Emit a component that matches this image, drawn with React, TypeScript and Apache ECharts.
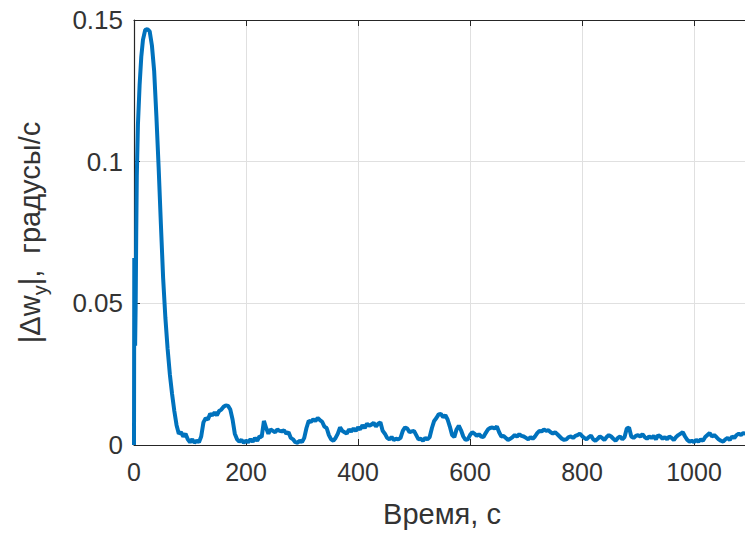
import React, { useEffect, useRef } from "react";
import * as echarts from "echarts";

const xTicks = [0, 200, 400, 600, 800, 1000];
const xLimit = 1100;
const yTicks = [0, 0.05, 0.1, 0.15];
const xTitle = "Время, с";
const yTitle = "{n||Δw}{sub|y}{n||,  градусы/с}";

// [time (s), |Δw_y| (deg/s)]
const signal: [number, number][] = [
  [0, 0], [0.5, 0.066], [1.5, 0.066], [2, 0.035], [3, 0.05], [4, 0.075], [5, 0.095],
  [7, 0.113], [10, 0.127], [13, 0.137], [16, 0.143], [20, 0.1465], [24, 0.1468],
  [28, 0.146], [32, 0.141], [36, 0.132], [40, 0.116], [44, 0.098], [48, 0.078],
  [52, 0.059], [56, 0.045], [60, 0.034], [64, 0.025], [68, 0.018], [72, 0.012],
  [76, 0.007], [80, 0.004], [84, 0.0045], [88, 0.003], [92, 0.004], [96, 0.002],
  [100, 0.001], [104, 0.002], [108, 0.0008], [112, 0.0015], [116, 0.001], [120, 0.003],
  [124, 0.008], [128, 0.0095], [132, 0.009], [136, 0.011], [140, 0.0105], [144, 0.0115],
  [148, 0.0105], [152, 0.012], [156, 0.0125], [160, 0.0135], [164, 0.014], [168, 0.0138],
  [172, 0.0125], [176, 0.009], [180, 0.004], [184, 0.002], [188, 0.0012], [192, 0.0018],
  [196, 0.0008], [200, 0.0015], [204, 0.001], [208, 0.002], [212, 0.0012], [216, 0.0025],
  [220, 0.0015], [224, 0.003], [228, 0.0028], [232, 0.0085], [236, 0.006], [240, 0.004],
  [244, 0.0055], [248, 0.005], [252, 0.0045], [256, 0.0055], [260, 0.005], [264, 0.0048],
  [268, 0.0052], [272, 0.004], [276, 0.0045], [280, 0.0025], [284, 0.002], [288, 0.001],
  [292, 0.0008], [296, 0.0015], [300, 0.001], [304, 0.0025], [308, 0.006], [312, 0.0085],
  [316, 0.0082], [320, 0.009], [324, 0.0085], [328, 0.0095], [332, 0.0088], [336, 0.0082],
  [340, 0.0065], [344, 0.006], [348, 0.0035], [352, 0.002], [356, 0.0015], [360, 0.0025],
  [364, 0.004], [368, 0.0062], [372, 0.005], [376, 0.0045], [380, 0.004], [384, 0.0055],
  [388, 0.0048], [392, 0.0058], [396, 0.005], [400, 0.0062], [404, 0.0055], [408, 0.007],
  [412, 0.006], [416, 0.0075], [420, 0.0068], [424, 0.0072], [428, 0.0078], [432, 0.0065],
  [436, 0.0075], [440, 0.008], [444, 0.005], [448, 0.004], [452, 0.0025], [456, 0.002],
  [460, 0.0028], [464, 0.0018], [468, 0.0022], [472, 0.002], [476, 0.0025], [480, 0.005],
  [484, 0.0062], [488, 0.0058], [492, 0.0045], [496, 0.0048], [500, 0.005], [504, 0.0035],
  [508, 0.002], [512, 0.0022], [516, 0.0015], [520, 0.0025], [524, 0.002], [528, 0.0028],
  [532, 0.006], [536, 0.0085], [540, 0.0095], [544, 0.0108], [548, 0.011], [552, 0.0098],
  [556, 0.0105], [560, 0.009], [564, 0.0065], [568, 0.0035], [572, 0.0028], [576, 0.0055],
  [580, 0.0068], [584, 0.0052], [588, 0.003], [592, 0.0018], [596, 0.002], [600, 0.0035],
  [604, 0.0045], [608, 0.004], [612, 0.0032], [616, 0.0038], [620, 0.003], [624, 0.0028],
  [628, 0.0042], [632, 0.0055], [636, 0.006], [640, 0.0062], [644, 0.0058], [648, 0.0065],
  [652, 0.0045], [656, 0.003], [660, 0.0032], [664, 0.0025], [668, 0.0018], [672, 0.0022],
  [676, 0.0028], [680, 0.0035], [684, 0.003], [688, 0.0038], [692, 0.0032], [696, 0.003],
  [700, 0.0025], [704, 0.002], [708, 0.0028], [712, 0.0022], [716, 0.003], [720, 0.0042],
  [724, 0.005], [728, 0.0048], [732, 0.0055], [736, 0.005], [740, 0.0052], [744, 0.0045],
  [748, 0.004], [752, 0.0045], [756, 0.0038], [760, 0.003], [764, 0.0022], [768, 0.0018],
  [772, 0.002], [776, 0.0028], [780, 0.003], [784, 0.0025], [788, 0.0032], [792, 0.0035],
  [796, 0.004], [800, 0.0032], [804, 0.0025], [808, 0.002], [812, 0.0028], [816, 0.0033],
  [820, 0.002], [824, 0.0015], [828, 0.0022], [832, 0.003], [836, 0.0025], [840, 0.0018],
  [844, 0.0028], [848, 0.0035], [852, 0.003], [856, 0.0022], [860, 0.0015], [864, 0.0025],
  [868, 0.003], [872, 0.002], [876, 0.0028], [880, 0.0058], [884, 0.0062], [888, 0.003],
  [892, 0.0025], [896, 0.0032], [900, 0.0035], [904, 0.003], [908, 0.0038], [912, 0.0028],
  [916, 0.0022], [920, 0.003], [924, 0.0025], [928, 0.0032], [932, 0.002], [936, 0.0035],
  [940, 0.003], [944, 0.0022], [948, 0.0028], [952, 0.002], [956, 0.003], [960, 0.0025],
  [964, 0.0018], [968, 0.0028], [972, 0.0035], [976, 0.004], [980, 0.0045], [984, 0.003],
  [988, 0.0018], [992, 0.0012], [996, 0.0015], [1000, 0.001], [1004, 0.0018], [1008, 0.0012],
  [1012, 0.002], [1016, 0.0015], [1020, 0.0028], [1024, 0.0035], [1028, 0.0042], [1032, 0.003],
  [1036, 0.0035], [1040, 0.0028], [1044, 0.002], [1048, 0.0015], [1052, 0.0012], [1056, 0.002],
  [1060, 0.0025], [1064, 0.0018], [1068, 0.003], [1072, 0.0025], [1076, 0.0035], [1080, 0.004],
  [1084, 0.0035], [1088, 0.0042], [1092, 0.004], [1096, 0.0045], [1100, 0.004],
];

const FONT = "'Liberation Sans', Arial, sans-serif";
const TEXT = "#333333";
const AXIS = "#262626";
const GRID = "#e0e0e0";

export default function App() {
  const ref = useRef<HTMLDivElement>(null);
  useEffect(() => {
    if (!ref.current) return;
    const chart = echarts.init(ref.current, undefined, { renderer: "svg" });
    const xInt = xTicks[1] - xTicks[0];
    const showX = (v: number) => xTicks.indexOf(v) >= 0;
    const common = {
      type: "value",
      min: xTicks[0],
      max: xLimit,
      interval: xInt,
    };
    chart.setOption({
      animation: false,
      backgroundColor: "#ffffff",
      grid: { left: 134, top: 20, right: 10, bottom: 90, containLabel: false },
      xAxis: [
        {
          ...common,
          position: "bottom",
          name: xTitle,
          nameLocation: "middle",
          nameGap: 54,
          nameTextStyle: { fontSize: 29, color: TEXT, fontFamily: FONT },
          axisLine: { show: true, lineStyle: { color: AXIS, width: 1.2 } },
          axisTick: { show: true, inside: true, length: 6, lineStyle: { color: AXIS } },
          axisLabel: {
            fontSize: 25,
            color: TEXT,
            fontFamily: FONT,
            margin: 14,
            formatter: (v: number) => (showX(v) ? String(v) : ""),
          },
          splitLine: { show: true, lineStyle: { color: GRID, width: 1 } },
        },
        {
          ...common,
          position: "top",
          axisLine: { show: true, lineStyle: { color: AXIS, width: 1.2 } },
          axisTick: { show: true, inside: true, length: 6, lineStyle: { color: AXIS } },
          axisLabel: { show: false },
          splitLine: { show: false },
        },
      ],
      yAxis: {
        type: "value",
        min: yTicks[0],
        max: yTicks[yTicks.length - 1],
        interval: yTicks[1] - yTicks[0],
        name: yTitle,
        nameLocation: "middle",
        nameGap: 88,
        nameTextStyle: {
          fontSize: 29,
          color: TEXT,
          fontFamily: FONT,
          rich: {
            n: { fontSize: 29, color: TEXT, fontFamily: FONT, lineHeight: 31, verticalAlign: "top" },
            sub: {
              fontSize: 20,
              color: TEXT,
              fontFamily: FONT,
              lineHeight: 20,
              verticalAlign: "top",
              padding: [15, 0, 0, 0],
            },
          },
        },
        axisLine: { show: true, lineStyle: { color: AXIS, width: 1.2 } },
        axisTick: { show: true, inside: true, length: 6, lineStyle: { color: AXIS } },
        axisLabel: {
          fontSize: 26,
          color: TEXT,
          fontFamily: FONT,
          margin: 11,
          formatter: (v: number) => String(Math.round(v * 1000) / 1000),
        },
        splitLine: { show: true, lineStyle: { color: GRID, width: 1 } },
      },
      series: [
        {
          type: "line",
          data: signal,
          xAxisIndex: 0,
          showSymbol: false,
          symbol: "none",
          lineStyle: { color: "#0072BD", width: 4 },
          clip: true,
        },
      ],
    });
    return () => chart.dispose();
  }, []);
  return (
    <div style={{ position: "absolute", left: 0, top: 0, width: 745, height: 535, overflow: "hidden", background: "#fff" }}>
      <div ref={ref} style={{ width: 760, height: 535 }} />
    </div>
  );
}
